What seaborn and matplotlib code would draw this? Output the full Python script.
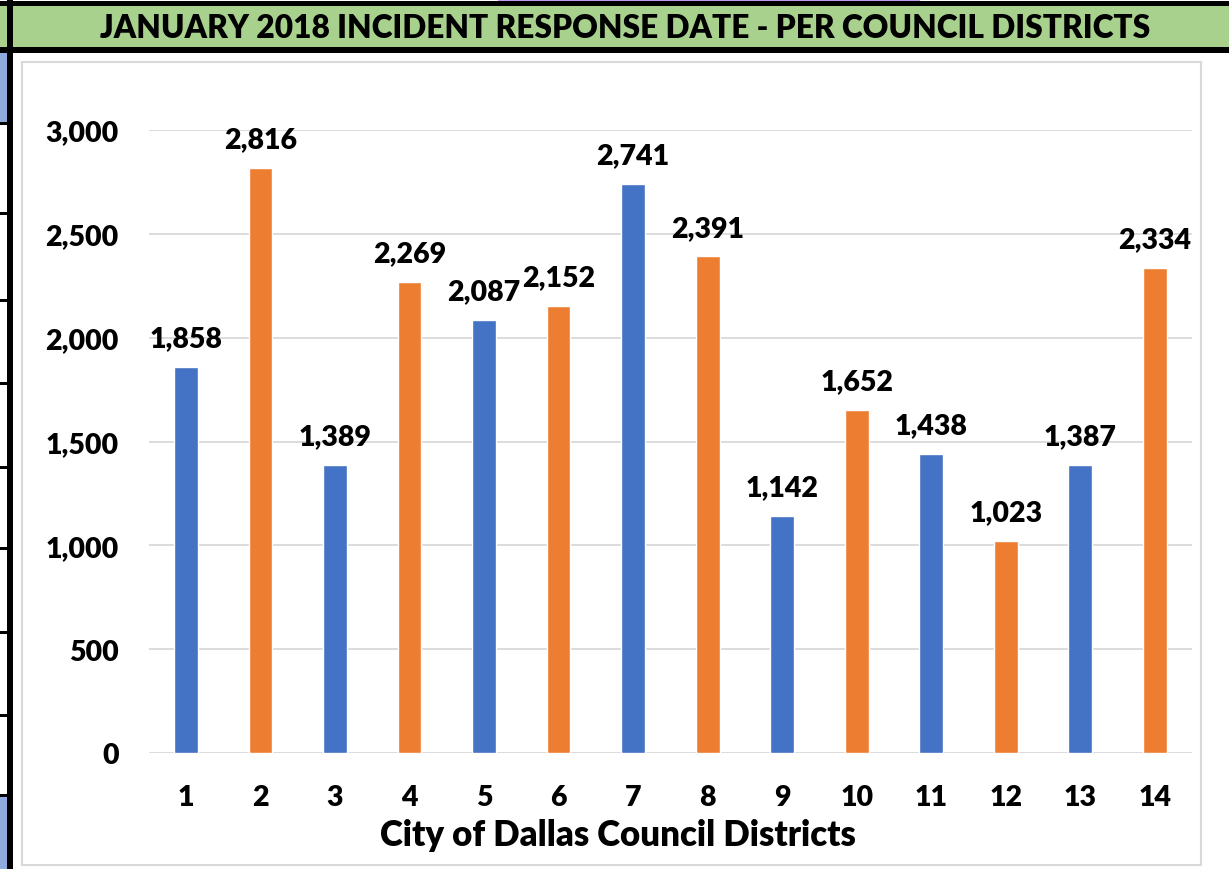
import matplotlib.pyplot as plt
import matplotlib.patches as mpatches
import matplotlib.ticker as ticker
import pandas as pd
import seaborn as sns

districts = [str(i) for i in range(1, 15)]
incidents = [1858, 2816, 1389, 2269, 2087, 2152, 2741, 2391, 1142, 1652, 1438, 1023, 1387, 2334]
bar_group = ['odd' if i % 2 == 1 else 'even' for i in range(1, 15)]
yticks = [0, 500, 1000, 1500, 2000, 2500, 3000]

title = 'JANUARY 2018 INCIDENT RESPONSE DATE - PER COUNCIL DISTRICTS'
xlabel = 'City of Dallas Council Districts'

BLUE = '#4472C4'
ORANGE = '#ED7D31'

df = pd.DataFrame({'district': districts, 'incidents': incidents, 'group': bar_group})

sns.set_style('white')
plt.rcParams['font.family'] = ['Lato', 'DejaVu Sans']
plt.rcParams['font.weight'] = 'bold'
plt.rcParams['text.color'] = 'black'
plt.rcParams['xtick.color'] = 'black'
plt.rcParams['ytick.color'] = 'black'

W, H = 1229, 870
fig = plt.figure(figsize=(W / 100, H / 100), dpi=100, facecolor='white')

def px_rect(x0, y0, x1, y1, **kw):
    # rectangle given in image pixels (top-left origin), kept behind the axes
    fig.patches.append(mpatches.Rectangle((x0 / W, 1 - y1 / H), (x1 - x0) / W, (y1 - y0) / H,
                                          transform=fig.transFigure, figure=fig, zorder=-10, **kw))

# spreadsheet decorations around the chart
px_rect(498, 0, 920, 2, facecolor='#C39BF0', edgecolor='none')
px_rect(0, 2, W, 7, facecolor='black', edgecolor='none')
px_rect(0, 7, W, 48, facecolor='#A9D18E', edgecolor='none')
px_rect(0, 48, W, 54, facecolor='black', edgecolor='none')
px_rect(0, 54, 7, 123, facecolor='#8FAADC', edgecolor='none')
px_rect(0, 797, 7, H, facecolor='#8FAADC', edgecolor='none')
for yy in [123, 213, 300, 383, 467, 548, 632, 715, 795]:
    px_rect(0, yy, 7, yy + 3, facecolor='black', edgecolor='none')
px_rect(7, 0, 13, H, facecolor='black', edgecolor='none')
# chart area
px_rect(22, 63, 1201, 866, facecolor='white', edgecolor='#D9D9D9', linewidth=1.5)

fig.text(625.5 / W, 1 - 28 / H, title, ha='center', va='center', fontsize=22.8, fontweight='heavy')

ax = fig.add_axes([148.7 / W, 116 / H, (1192 - 148.7) / W, (754 - 131) / H])
ax.set_facecolor('none')
sns.barplot(data=df, x='district', y='incidents', hue='group', palette={'odd': BLUE, 'even': ORANGE},
            dodge=False, width=0.32, legend=False, ax=ax, saturation=1)

ax.set_ylim(0, 3000)
ax.set_xlim(-0.5, 13.5)
ax.set_yticks(yticks)
ax.yaxis.set_major_formatter(ticker.FuncFormatter(lambda v, _: f'{int(v):,}'))
ax.grid(True, axis='y', color='#D9D9D9', linewidth=1.3)
ax.set_axisbelow(True)
for s in ax.spines.values():
    s.set_visible(False)
ax.tick_params(axis='y', length=0, pad=21.5, labelsize=20.5)
ax.tick_params(axis='x', length=0, pad=22, labelsize=20.5)
for lab in ax.get_xticklabels() + ax.get_yticklabels():
    lab.set_fontweight('heavy')
ax.set_xlabel('')
ax.set_ylabel('')

for i, v in enumerate(incidents):
    ax.annotate(f'{v:,}', (i, v), xytext=(0, 15), textcoords='offset points',
                ha='center', va='baseline', fontsize=20.5, fontweight='heavy')

fig.text(618 / W, 1 - 836 / H, xlabel, ha='center', va='center', fontsize=25, fontweight='heavy')

fig.savefig('out.png', dpi=100, facecolor='white')
